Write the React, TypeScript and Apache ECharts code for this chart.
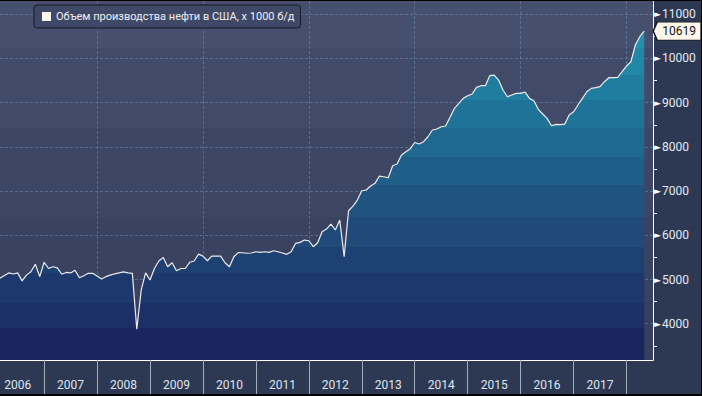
import React, { useEffect, useRef } from 'react';
import * as echarts from 'echarts';

const SERIES_NAME = 'Объем производства нефти в США, х 1000 б/д';

// Monthly categories: Mar 2006 .. Jul 2018 (last two are empty padding)
const START_YEAR = 2006;
const START_MONTH = 3;
const MONTH_COUNT = 149;
const months: string[] = [];
for (let k = 0; k < MONTH_COUNT; k++) {
  const m = START_MONTH - 1 + k;
  const y = START_YEAR + Math.floor(m / 12);
  const mm = (m % 12) + 1;
  months.push(`${y}-${String(mm).padStart(2, '0')}`);
}

// US crude oil production, thousand b/d
const production: number[] = [
  5030, 5090, 5150, 5125, 5150, 4970, 5100, 5175, 5345, 5065,
  5390, 5250, 5290, 5265, 5120, 5160, 5150, 5210, 5040, 5085,
  5140, 5140, 5080, 5010, 5065, 5100, 5130, 5150, 5175, 5150,
  5140, 3875, 4760, 5150, 4990, 5250, 5420, 5500, 5290, 5380,
  5200, 5250, 5250, 5390, 5420, 5575, 5530, 5425, 5530, 5530,
  5530, 5380, 5290, 5515, 5610, 5606, 5595, 5600, 5629, 5615,
  5629, 5615, 5651, 5629, 5600, 5570, 5629, 5819, 5841, 5893,
  5877, 5742, 5832, 6081, 6142, 6255, 6120, 6346, 5516, 6556,
  6662, 6798, 7008, 7024, 7115, 7176, 7341, 7325, 7303, 7574,
  7613, 7816, 7891, 7960, 8100, 8065, 8117, 8230, 8382, 8404,
  8456, 8472, 8669, 8872, 8985, 9098, 9157, 9196, 9347, 9384,
  9384, 9610, 9625, 9512, 9286, 9135, 9173, 9211, 9211, 9241,
  9098, 9044, 8850, 8744, 8646, 8479, 8510, 8502, 8517, 8721,
  8796, 8947, 9098, 9248, 9324, 9339, 9362, 9475, 9565, 9565,
  9573, 9700, 9829, 9927, 10305, 10493, 10619,
];

const LAST_INDEX = production.length - 1;
const LAST_VALUE = production[LAST_INDEX];

const Y_MIN = 3180;
const Y_MAX = 11300;

// Banding (page y edges of the plot, top=1, bottom=360)
const PLOT_TOP = 1;
const PLOT_BOTTOM = 360;
const AREA_EDGES = [1, 48, 75, 100, 128, 157, 185, 217, 247, 273, 303, 328, 360];
const AREA_COLORS = [
  '#2391ad', '#2187a6', '#217d9f', '#207398', '#1f6890', '#1f5e88',
  '#1f5481', '#1f4a7a', '#1e4173', '#1d386d', '#1c2f67', '#1b2660',
];
const BG_EDGES = [1, 48, 128, 217, 303, 360];
const BG_COLORS = ['#46506e', '#414b69', '#3d4665', '#394261', '#363f5d'];

function bandStops(edges: number[], colors: string[]) {
  const h = PLOT_BOTTOM - PLOT_TOP;
  const stops: { offset: number; color: string }[] = [];
  colors.forEach((c, i) => {
    const a = Math.min(1, Math.max(0, (edges[i] - PLOT_TOP) / h));
    const b = Math.min(1, Math.max(0, (edges[i + 1] - PLOT_TOP) / h));
    stops.push({ offset: a, color: c });
    stops.push({ offset: b, color: c });
  });
  return stops;
}

const GRID_DASH = { color: 'rgba(120,160,205,0.42)', type: [3, 2] as number[], width: 1 };

export default function App() {
  const ref = useRef<HTMLDivElement>(null);

  useEffect(() => {
    document.body.style.margin = '0';
    if (!ref.current) return;
    const chart = echarts.init(ref.current, undefined, { renderer: 'svg' });

    const areaGradient = new echarts.graphic.LinearGradient(
      0, 0, 0, PLOT_BOTTOM - PLOT_TOP, bandStops(AREA_EDGES, AREA_COLORS), true
    );
    const bgGradient = new echarts.graphic.LinearGradient(0, 0, 0, 1, bandStops(BG_EDGES, BG_COLORS));

    chart.setOption({
      animation: false,
      backgroundColor: '#2d3953',
      grid: {
        left: 0,
        top: 0,
        right: 48,
        bottom: 34,
        show: true,
        backgroundColor: bgGradient,
        borderWidth: 0,
      },
      legend: {
        left: 34,
        top: 4,
        padding: [6, 6, 6, 8],
        backgroundColor: '#3f4967',
        borderColor: '#141826',
        borderWidth: 1,
        borderRadius: 3,
        itemWidth: 9,
        itemHeight: 9,
        textStyle: { color: '#eceff5', fontSize: 11, fontFamily: 'Roboto' },
        data: [{ name: SERIES_NAME, icon: 'rect', itemStyle: { color: '#fdf6ee', borderWidth: 0 } }],
      },
      xAxis: {
        type: 'category',
        data: months,
        boundaryGap: false,
        z: 3,
        axisLine: { show: true, lineStyle: { color: '#ffffff', width: 1 } },
        axisTick: {
          show: true,
          length: 34,
          interval: (_i: number, v: string) => v.endsWith('-01'),
          lineStyle: { color: '#a3abbb', width: 1 },
        },
        axisLabel: {
          interval: (_i: number, v: string) => v.endsWith('-07') && !v.startsWith('2018'),
          formatter: (v: string) => v.slice(0, 4),
          margin: 19,
          color: '#dfe5f2',
          fontSize: 12,
          fontFamily: 'Roboto',
        },
        splitLine: {
          show: true,
          interval: (_i: number, v: string) => v.endsWith('-01') && parseInt(v, 10) % 2 === 0,
          lineStyle: GRID_DASH,
        },
      },
      yAxis: {
        type: 'value',
        position: 'right',
        min: Y_MIN,
        max: Y_MAX,
        splitNumber: 8,
        minInterval: 1000,
        maxInterval: 1000,
        z: 3,
        axisLine: { show: true, lineStyle: { color: '#ffffff', width: 1 } },
        axisTick: { show: false },
        minorTick: { show: true, splitNumber: 2, length: 4, lineStyle: { color: '#ffffff', width: 1 } },
        minorSplitLine: { show: false },
        splitLine: { show: true, showMinLine: false, showMaxLine: false, lineStyle: GRID_DASH },
        axisLabel: {
          margin: 1,
          showMinLabel: false,
          showMaxLabel: false,
          formatter: (v: number) => (v % 1000 === 0 ? `{t|►}{v|${v}}` : ''),
          rich: {
            t: { color: '#ffffff', fontSize: 9, fontFamily: 'DejaVu Sans', padding: [0, 1, 0, 0] },
            v: { color: '#e3e9f7', fontSize: 12, fontFamily: 'Roboto' },
          },
        },
      },
      series: [
        {
          type: 'line',
          name: SERIES_NAME,
          data: production,
          symbol: 'none',
          showSymbol: false,
          itemStyle: { color: '#fdf6ee' },
          lineStyle: { color: '#ececec', width: 1.2 },
          areaStyle: { color: areaGradient, opacity: 1 },
          markPoint: {
            silent: true,
            symbol: 'path://M0,9L4,0L48,0L48,18L4,18Z',
            symbolSize: [48, 18],
            symbolOffset: [33, 0],
            itemStyle: { color: '#fff6ea', borderColor: '#1a1a1a', borderWidth: 1 },
            label: {
              show: true,
              position: 'inside',
              offset: [2, 0],
              color: '#151515',
              fontSize: 12,
              fontFamily: 'Roboto',
              formatter: String(LAST_VALUE),
            },
            data: [{ coord: [months[LAST_INDEX], LAST_VALUE], value: LAST_VALUE }],
          },
        },
      ],
    });

    return () => chart.dispose();
  }, []);

  return (
    <div
      style={{
        position: 'fixed',
        left: 0,
        top: 0,
        width: 702,
        height: 396,
        boxSizing: 'border-box',
        borderTop: '1px solid #000',
        borderRight: '1px solid #000',
        borderBottom: '2px solid #000',
        background: '#2d3953',
      }}
    >
      <div ref={ref} style={{ width: 701, height: 393 }} />
    </div>
  );
}
